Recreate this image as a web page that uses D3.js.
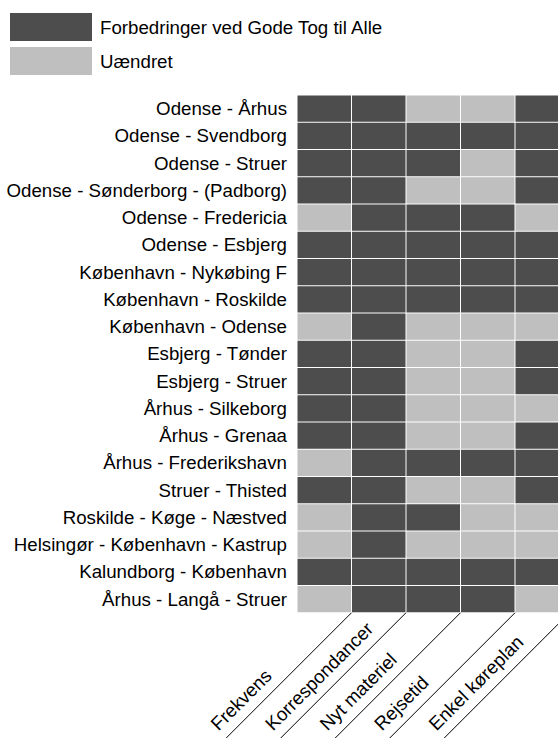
<!DOCTYPE html>
<html>
<head>
<meta charset="utf-8">
<script src="https://cdn.jsdelivr.net/npm/d3@7"></script>
<style>
html, body { margin: 0; padding: 0; background: #fff; overflow: hidden; }
svg text { font-family: "Liberation Sans", Arial, sans-serif; fill: #000; }
</style>
</head>
<body>
<script>
const routes = [
  "Odense - Århus", "Odense - Svendborg", "Odense - Struer",
  "Odense - Sønderborg - (Padborg)", "Odense - Fredericia", "Odense - Esbjerg",
  "København - Nykøbing F", "København - Roskilde", "København - Odense",
  "Esbjerg - Tønder", "Esbjerg - Struer", "Århus - Silkeborg", "Århus - Grenaa",
  "Århus - Frederikshavn", "Struer - Thisted", "Roskilde - Køge - Næstved",
  "Helsingør - København - Kastrup", "Kalundborg - København", "Århus - Langå - Struer"
];
const criteria = ["Frekvens", "Korrespondancer", "Nyt materiel", "Rejsetid", "Enkel køreplan"];
// 1 = Forbedringer ved Gode Tog til Alle, 0 = Uændret
const frekvens        = [1,1,1,1,0,1,1,1,0,1,1,1,1,0,1,0,0,1,0];
const korrespondancer = [1,1,1,1,1,1,1,1,1,1,1,1,1,1,1,1,1,1,1];
const nytMateriel     = [0,1,1,0,1,1,1,1,0,0,0,0,0,1,0,1,0,1,1];
const rejsetid        = [0,1,0,0,1,1,1,1,0,0,0,0,0,1,0,0,0,1,1];
const enkelKoreplan   = [1,1,1,1,0,1,1,1,0,1,1,0,1,1,1,0,0,1,0];
const seriesValues = [frekvens, korrespondancer, nytMateriel, rejsetid, enkelKoreplan];
const legendLabels = ["Forbedringer ved Gode Tog til Alle", "Uændret"];
const colors = ["#4d4d4d", "#bfbfbf"];

const W = 558, H = 738;
const FS = 18.7;
const svg = d3.select("body").append("svg").attr("width", W).attr("height", H);

const x = d3.scaleBand().domain(criteria).range([297, 569.5]).padding(0);
const y = d3.scaleBand().domain(routes).range([95, 612.75]).padding(0);
const color = d3.scaleOrdinal().domain([1, 0]).range(colors);

const cells = [];
criteria.forEach((c, ci) => routes.forEach((r, ri) => cells.push({c, r, v: seriesValues[ci][ri]})));

svg.append("g").selectAll("rect").data(cells).join("rect")
  .attr("x", d => x(d.c) + 0.5)
  .attr("y", d => y(d.r) + 0.5)
  .attr("width", x.bandwidth() - 1)
  .attr("height", y.bandwidth() - 1)
  .attr("fill", d => color(d.v));

// row labels
svg.append("g").selectAll("text").data(routes).join("text")
  .attr("x", 287)
  .attr("y", d => y(d) + y.bandwidth() / 2)
  .attr("dy", "0.35em")
  .attr("text-anchor", "end")
  .attr("font-size", FS)
  .text(d => d);

// diagonal column labels
const bottom = y.range()[1];
const s2 = Math.SQRT1_2;
const colG = svg.append("g").selectAll("g").data(criteria).join("g");
colG.append("line")
  .attr("x1", d => x(d) + x.bandwidth())
  .attr("y1", bottom)
  .attr("x2", d => x(d) + x.bandwidth() - 200)
  .attr("y2", bottom + 200)
  .attr("stroke", "#000")
  .attr("stroke-width", 1);
const dAlong = 178, gap = 10;
colG.append("text")
  .attr("transform", d => {
    const cx = x(d) + x.bandwidth(), cy = bottom;
    const px = cx - dAlong * s2 - gap * s2;
    const py = cy + dAlong * s2 - gap * s2;
    return `translate(${px},${py}) rotate(-45)`;
  })
  .attr("text-anchor", "start")
  .attr("font-size", FS)
  .text(d => d);

// legend
const leg = svg.append("g").selectAll("g").data(legendLabels).join("g")
  .attr("transform", (d, i) => `translate(10,${13 + i * 34})`);
leg.append("rect").attr("width", 82).attr("height", 28).attr("fill", (d, i) => colors[i]);
leg.append("text").attr("x", 90).attr("y", 14).attr("dy", "0.35em")
  .attr("font-size", FS).text(d => d);
</script>
</body>
</html>
